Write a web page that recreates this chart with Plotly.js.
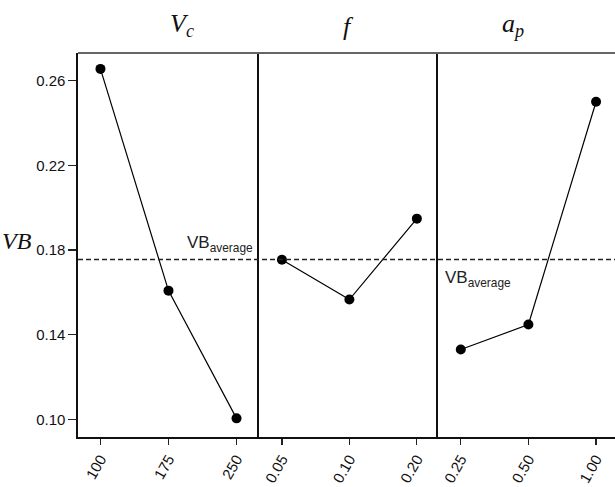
<!DOCTYPE html>
<html>
<head>
<meta charset="utf-8">
<script src="https://cdn.plot.ly/plotly-3.0.1.min.js"></script>
<style>html,body{margin:0;padding:0;background:#fff;}#chart{width:615px;height:487px;}</style>
</head>
<body>
<div id="chart"></div>
<script>
// Data
const vcLevels = ["100", "175", "250"];
const vcVB = [0.2655, 0.1608, 0.1005];
const fLevels = ["0.05", "0.10", "0.20"];
const fVB = [0.1754, 0.1566, 0.1948];
const apLevels = ["0.25", "0.50", "1.00"];
const apVB = [0.133, 0.1448, 0.250];
const vbAverage = 0.1755;
const yTickVals = [0.10, 0.14, 0.18, 0.22, 0.26];
const panelTitles = ["V<sub>c</sub>", "f", "a<sub>p</sub>"];

const tickFont = {family: "Liberation Sans, Arial, sans-serif", size: 15, color: "#111"};
const serifFont = {family: "Liberation Serif, Times New Roman, serif", size: 26, color: "#111", style: "italic"};
const noteFont = {family: "Liberation Sans, Arial, sans-serif", size: 17, color: "#222"};

function series(x, y, xa, ya) {
  return {
    x: x, y: y, xaxis: xa, yaxis: ya,
    type: "scatter", mode: "lines+markers",
    line: {color: "#000", width: 1.2},
    marker: {color: "#000", size: 10, symbol: "circle"},
    showlegend: false, hoverinfo: "x+y"
  };
}

const data = [
  series(vcLevels, vcVB, "x", "y"),
  series(fLevels, fVB, "x2", "y2"),
  series(apLevels, apVB, "x3", "y3")
];

const d1 = 0.337, d2 = 0.670;
const yRange = [0.0917, 0.273];

function xAxis(domain, range, anchor) {
  return {
    domain: domain, type: "category", range: range, anchor: anchor,
    showline: true, linecolor: "#111", linewidth: 1.6,
    ticks: "outside", ticklen: 6, tickwidth: 1.2, tickcolor: "#222",
    tickangle: -60, tickfont: tickFont,
    showgrid: false, zeroline: false, fixedrange: true
  };
}
function yAxis(anchor, showLabels) {
  return {
    range: yRange, anchor: anchor,
    showline: true, linecolor: "#111", linewidth: 1.6,
    ticks: showLabels ? "outside" : "", ticklen: 8, tickwidth: 1.2, tickcolor: "#222",
    tickvals: yTickVals, tickformat: ".2f", showticklabels: showLabels,
    tickfont: tickFont, showgrid: false, zeroline: false
  };
}

const layout = {
  width: 615, height: 487,
  margin: {l: 78, r: 0, t: 53, b: 50},
  paper_bgcolor: "#fff", plot_bgcolor: "#fff",
  xaxis: xAxis([0, d1], [-0.33, 2.33], "y"),
  xaxis2: xAxis([d1, d2], [-0.34, 2.31], "y2"),
  xaxis3: xAxis([d2, 1], [-0.34, 2.28], "y3"),
  yaxis: yAxis("x", true),
  yaxis2: Object.assign(yAxis("x2", false), {matches: "y"}),
  yaxis3: Object.assign(yAxis("x3", false), {matches: "y"}),
  shapes: [
    {type: "line", xref: "paper", yref: "y", x0: 0, x1: 1, y0: vbAverage, y1: vbAverage,
     line: {color: "#222", width: 1.6, dash: "5px,3px"}},
    {type: "line", xref: "paper", yref: "paper", x0: 0, x1: 1, y0: 1, y1: 1,
     line: {color: "#666", width: 2.2}}
  ],
  annotations: [
    {text: panelTitles[0], xref: "paper", yref: "paper", x: d1 / 2, y: 1, yanchor: "bottom", yshift: 10, showarrow: false, font: serifFont},
    {text: panelTitles[1], xref: "paper", yref: "paper", x: (d1 + d2) / 2, y: 1, yanchor: "bottom", yshift: 10, showarrow: false, font: serifFont},
    {text: panelTitles[2], xref: "paper", yref: "paper", x: (d2 + 1) / 2, y: 1, yanchor: "bottom", yshift: 10, showarrow: false, font: serifFont},
    {text: "VB", xref: "paper", yref: "paper", x: 0, xanchor: "right", xshift: -44, y: 0.51, yanchor: "middle", showarrow: false,
     font: {family: "Liberation Serif, Times New Roman, serif", size: 24, color: "#111", style: "italic"}},
    {text: "VB<sub>average</sub>", xref: "x", yref: "y", x: 1.75, y: vbAverage, yanchor: "bottom", yshift: 3, showarrow: false,
     font: noteFont},
    {text: "VB<sub>average</sub>", xref: "x3", yref: "y3", x: 0.26, y: vbAverage, yanchor: "top", yshift: -6, showarrow: false,
     font: noteFont}
  ]
};

Plotly.newPlot("chart", data, layout, {displayModeBar: false, staticPlot: true});
</script>
</body>
</html>
